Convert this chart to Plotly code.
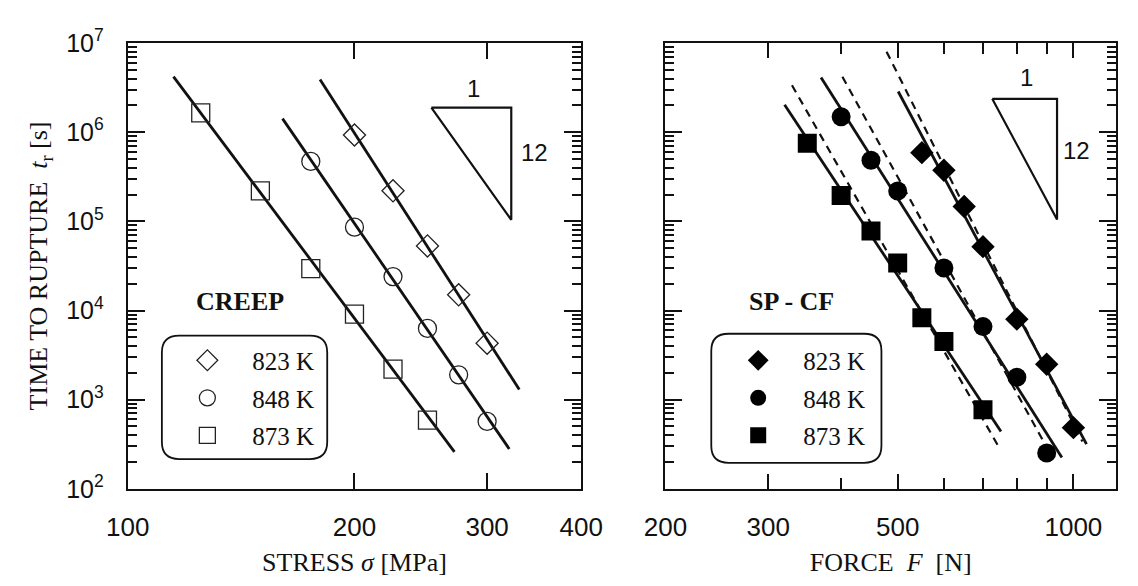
import numpy as np
import plotly.graph_objects as go

# ---------------- data ----------------
# Uniaxial creep: stress [MPa] vs time to rupture [s]
creep_stress_823 = [200, 225, 250, 275, 300]
creep_time_823 = [9.3e5, 2.2e5, 5.3e4, 1.5e4, 4.3e3]
creep_stress_848 = [175, 200, 225, 250, 275, 300]
creep_time_848 = [4.7e5, 8.6e4, 2.4e4, 6.3e3, 1.9e3, 5.7e2]
creep_stress_873 = [125, 150, 175, 200, 225, 250]
creep_time_873 = [1.65e6, 2.2e5, 2.95e4, 9.1e3, 2.2e3, 5.9e2]

# Power-law fits for the creep tests (end points)
creep_fit_stress_823 = [180, 331]
creep_fit_time_823 = [3.9e6, 1.3e3]
creep_fit_stress_848 = [160.5, 321]
creep_fit_time_848 = [1.42e6, 2.8e2]
creep_fit_stress_873 = [115, 271.5]
creep_fit_time_873 = [4.2e6, 2.6e2]

# Small punch creep: force [N] vs time to rupture [s]
spcf_force_823 = [550, 600, 650, 700, 800, 900, 1000]
spcf_time_823 = [5.9e5, 3.75e5, 1.47e5, 5.2e4, 8.0e3, 2.5e3, 4.85e2]
spcf_force_848 = [400, 450, 500, 600, 700, 800, 900]
spcf_time_848 = [1.49e6, 4.85e5, 2.19e5, 3.0e4, 6.6e3, 1.78e3, 2.52e2]
spcf_force_873 = [350, 400, 450, 500, 550, 600, 700]
spcf_time_873 = [7.5e5, 1.95e5, 7.8e4, 3.4e4, 8.3e3, 4.5e3, 7.7e2]

# SP-CF fits (solid) and predictions with exponent 12 (dashed)
spcf_fit_force_823 = [501, 1053]
spcf_fit_time_823 = [2.86e6, 3.17e2]
spcf_fit_force_848 = [369.5, 955.5]
spcf_fit_time_848 = [4.12e6, 2.24e2]
spcf_fit_force_873 = [320, 751.5]
spcf_fit_time_873 = [2.03e6, 4.4e2]
spcf_pred_force_823 = [478.5, 1036]
spcf_pred_time_823 = [8.0e6, 3.4e2]
spcf_pred_force_848 = [402, 908]
spcf_pred_time_848 = [4.19e6, 2.63e2]
spcf_pred_force_873 = [329.5, 744.5]
spcf_pred_time_873 = [3.36e6, 2.97e2]

# Slope triangles (1 : 12)
creep_tri_x = [253, 323, 323, 253]
creep_tri_y = [1.89e6, 1.89e6, 1.04e5, 1.89e6]
spcf_tri_x = [726, 937.5, 937.5, 726]
spcf_tri_y = [2.37e6, 2.37e6, 1.05e5, 2.37e6]

temps = ["823 K", "848 K", "873 K"]
y_exponents = [2, 3, 4, 5, 6, 7]
stress_ticks = [100, 200, 300, 400]
force_major = [200, 300, 500, 1000]
force_minor = [400, 600, 700, 800, 900]

# ---------------- layout helpers ----------------
W, H = 1138, 586
def px(xp):
    return xp / W
def py(yp):
    return 1 - yp / H

INK = "#111111"
SERIF = "Liberation Serif, Times New Roman, serif"
SANS = "Liberation Sans, Arial, sans-serif"

fig = go.Figure()

open_symbols = ["diamond-open", "circle-open", "square-open"]
filled_symbols = ["diamond", "circle", "square"]
open_sizes = [17, 18, 18]
filled_sizes = [18, 19, 19]

creep_pts = [(creep_stress_823, creep_time_823), (creep_stress_848, creep_time_848),
             (creep_stress_873, creep_time_873)]
creep_fits = [(creep_fit_stress_823, creep_fit_time_823), (creep_fit_stress_848, creep_fit_time_848),
              (creep_fit_stress_873, creep_fit_time_873)]
spcf_pts = [(spcf_force_823, spcf_time_823), (spcf_force_848, spcf_time_848),
            (spcf_force_873, spcf_time_873)]
spcf_fits = [(spcf_fit_force_823, spcf_fit_time_823), (spcf_fit_force_848, spcf_fit_time_848),
             (spcf_fit_force_873, spcf_fit_time_873)]
spcf_preds = [(spcf_pred_force_823, spcf_pred_time_823), (spcf_pred_force_848, spcf_pred_time_848),
              (spcf_pred_force_873, spcf_pred_time_873)]

# fit lines first so markers sit on top
for (xs, ys) in creep_fits:
    fig.add_trace(go.Scatter(x=xs, y=ys, mode="lines", line=dict(color=INK, width=2.8),
                             showlegend=False, hoverinfo="skip", xaxis="x", yaxis="y"))
for (xs, ys) in spcf_preds:
    fig.add_trace(go.Scatter(x=xs, y=ys, mode="lines", line=dict(color=INK, width=2.2, dash="8px,6px"),
                             showlegend=False, hoverinfo="skip", xaxis="x2", yaxis="y2"))
for (xs, ys) in spcf_fits:
    fig.add_trace(go.Scatter(x=xs, y=ys, mode="lines", line=dict(color=INK, width=2.8),
                             showlegend=False, hoverinfo="skip", xaxis="x2", yaxis="y2"))

for i, (xs, ys) in enumerate(creep_pts):
    fig.add_trace(go.Scatter(x=xs, y=ys, mode="markers", name=temps[i],
                             marker=dict(symbol=open_symbols[i], size=open_sizes[i],
                                         color="#222222", line=dict(width=1.3, color="#222222")),
                             legend="legend", legendgroup="c%d" % i, xaxis="x", yaxis="y"))
for i, (xs, ys) in enumerate(spcf_pts):
    fig.add_trace(go.Scatter(x=xs, y=ys, mode="markers", name=temps[i],
                             marker=dict(symbol=filled_symbols[i], size=filled_sizes[i],
                                         color="#000000", line=dict(width=0)),
                             legend="legend2", legendgroup="s%d" % i, xaxis="x2", yaxis="y2"))

# slope triangles
fig.add_trace(go.Scatter(x=creep_tri_x, y=creep_tri_y, mode="lines", line=dict(color=INK, width=2.2),
                         showlegend=False, hoverinfo="skip", xaxis="x", yaxis="y"))
fig.add_trace(go.Scatter(x=spcf_tri_x, y=spcf_tri_y, mode="lines", line=dict(color=INK, width=2.2),
                         showlegend=False, hoverinfo="skip", xaxis="x2", yaxis="y2"))

annotations = [
    dict(text="1", x=np.log10(288), y=np.log10(3.08e6), xref="x", yref="y", showarrow=False,
         font=dict(family=SANS, size=24, color=INK)),
    dict(text="12", x=np.log10(347), y=np.log10(5.87e5), xref="x", yref="y", showarrow=False,
         font=dict(family=SANS, size=24, color=INK)),
    dict(text="1", x=np.log10(831), y=np.log10(4.1e6), xref="x2", yref="y2", showarrow=False,
         font=dict(family=SANS, size=24, color=INK)),
    dict(text="12", x=np.log10(1011), y=np.log10(6.3e5), xref="x2", yref="y2", showarrow=False,
         font=dict(family=SANS, size=24, color=INK)),
    dict(text="<b>CREEP</b>", x=np.log10(141), y=np.log10(1.25e4), xref="x", yref="y", showarrow=False,
         font=dict(family=SERIF, size=26, color=INK)),
    dict(text="<b>SP - CF</b>", x=np.log10(329.5), y=np.log10(1.25e4), xref="x2", yref="y2",
         showarrow=False, font=dict(family=SERIF, size=26, color=INK)),
]

def rounded_box(x0, y0, x1, y1, r):
    """Rounded rectangle path (pixel input) in paper coordinates."""
    rx, ry = r / W, r / H
    X0, X1 = px(x0), px(x1)
    Y0, Y1 = py(y1), py(y0)  # bottom, top
    return (f"M {X0 + rx} {Y1} L {X1 - rx} {Y1} Q {X1} {Y1} {X1} {Y1 - ry} "
            f"L {X1} {Y0 + ry} Q {X1} {Y0} {X1 - rx} {Y0} L {X0 + rx} {Y0} "
            f"Q {X0} {Y0} {X0} {Y0 + ry} L {X0} {Y1 - ry} Q {X0} {Y1} {X0 + rx} {Y1} Z")

shapes = [
    dict(type="path", path=rounded_box(145.5, 336, 317.5, 466.5, 18), xref="paper", yref="paper",
         line=dict(color=INK, width=1.8), fillcolor="rgba(0,0,0,0)"),
    dict(type="path", path=rounded_box(717, 334, 894, 470.5, 18), xref="paper", yref="paper",
         line=dict(color=INK, width=1.8), fillcolor="rgba(0,0,0,0)"),
]

y_tickvals = [10.0 ** e for e in y_exponents]
y_ticktext = ["10<sup>%d</sup>" % e for e in y_exponents]

common_axis = dict(showline=True, linecolor=INK, linewidth=2, mirror="allticks",
                   ticks="inside", tickcolor=INK, tickwidth=1.8, showgrid=False, zeroline=False)

ydom = [py(498), py(26.5)]

fig.update_layout(
    width=W, height=H, margin=dict(l=0, r=0, t=0, b=0),
    paper_bgcolor="white", plot_bgcolor="white",
    xaxis=dict(type="log", domain=[px(110), px(581.7)], range=[np.log10(100), np.log10(400)],
               tickvals=stress_ticks, ticktext=[str(v) for v in stress_ticks], ticklen=16,
               tickfont=dict(family=SANS, size=26, color=INK), ticklabelstandoff=14,
               title=dict(text="STRESS <i>σ</i> [MPa]", font=dict(family=SERIF, size=26, color=INK),
                          standoff=12),
               anchor="y", **common_axis),
    yaxis=dict(type="log", domain=ydom, range=[2, 7], tickvals=y_tickvals, ticktext=y_ticktext,
               ticklen=17, minor=dict(ticks="inside", ticklen=9, dtick="D1", tickcolor=INK, tickwidth=1.5),
               tickfont=dict(family=SANS, size=25, color=INK), ticklabelstandoff=17,
               title=dict(text="TIME TO RUPTURE&nbsp; <i>t</i><sub>r</sub> [s]",
                          font=dict(family=SERIF, size=26, color=INK), standoff=11),
               anchor="x", **common_axis),
    xaxis2=dict(type="log", domain=[px(669.3), 1.0], range=[np.log10(200), np.log10(1183)],
                tickvals=force_major, ticktext=[str(v) for v in force_major], ticklen=15,
                minor=dict(ticks="inside", ticklen=11, tickvals=force_minor, tickcolor=INK, tickwidth=1.8),
                tickfont=dict(family=SANS, size=26, color=INK), ticklabelstandoff=14,
                title=dict(text="FORCE&nbsp; <i>F</i>&nbsp; [N]", font=dict(family=SERIF, size=26, color=INK),
                           standoff=12),
                anchor="y2", **common_axis),
    yaxis2=dict(type="log", domain=ydom, range=[2, 7], tickvals=y_tickvals, showticklabels=False,
                ticklen=17, minor=dict(ticks="inside", ticklen=9, dtick="D1", tickcolor=INK, tickwidth=1.5),
                anchor="x2", **common_axis),
    legend=dict(x=px(146), y=py(338), xanchor="left", yanchor="top", bgcolor="rgba(0,0,0,0)",
                borderwidth=0, itemwidth=80, tracegroupgap=2,
                font=dict(family=SERIF, size=25, color=INK)),
    legend2=dict(x=px(719), y=py(338), xanchor="left", yanchor="top", bgcolor="rgba(0,0,0,0)",
                 borderwidth=0, itemwidth=80, tracegroupgap=2,
                 font=dict(family=SERIF, size=25, color=INK)),
    annotations=annotations,
    shapes=shapes,
)

fig.write_html("out.html")
